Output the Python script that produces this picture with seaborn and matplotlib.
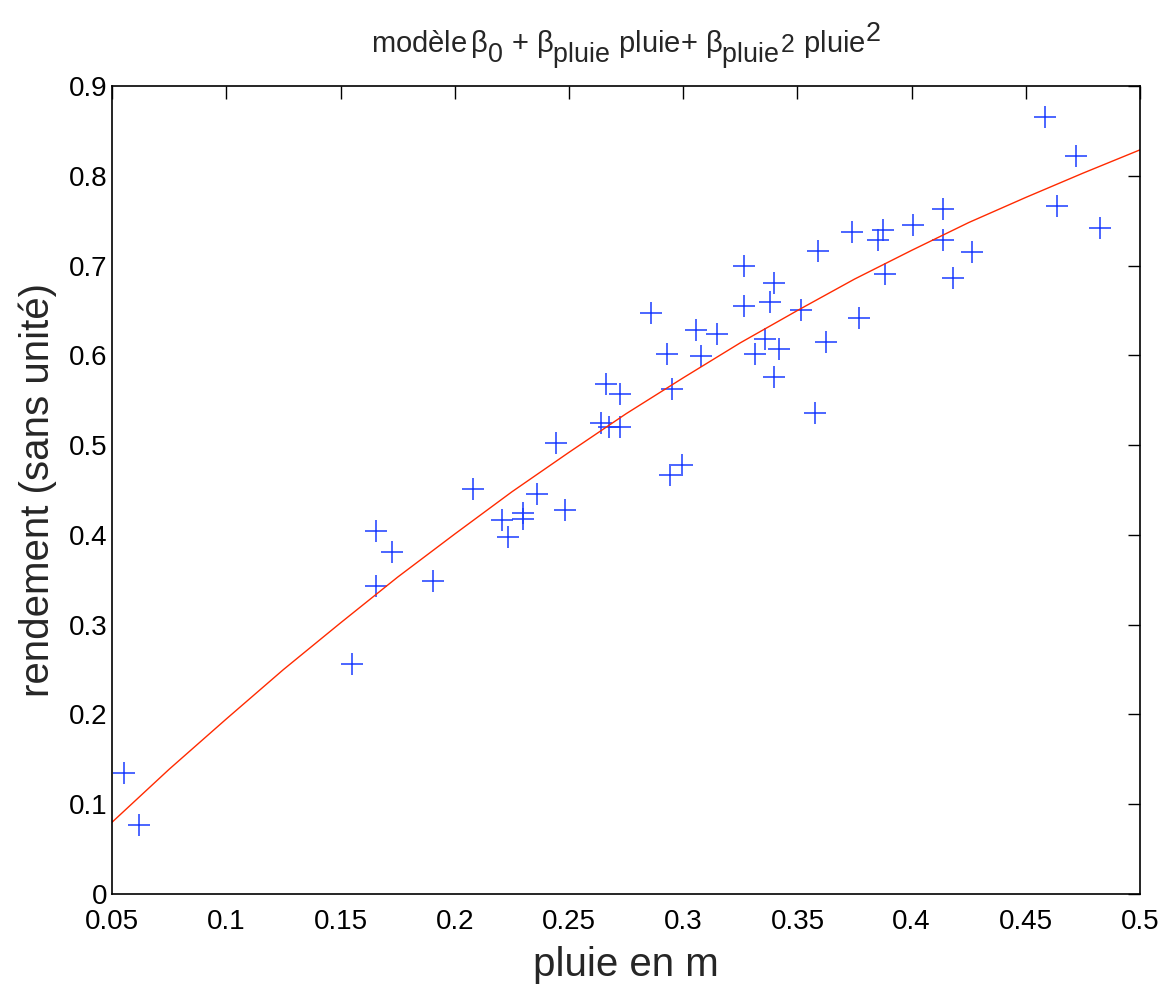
import matplotlib
matplotlib.use('Agg')
import matplotlib.pyplot as plt
import matplotlib._mathtext as mtext
import seaborn as sns
import pandas as pd

# points
pluie = [0.0553, 0.0616, 0.1550, 0.1654, 0.1654, 0.1726, 0.1905, 0.2080, 0.2206,
         0.2235, 0.2297, 0.2297, 0.2359, 0.2442, 0.2484, 0.2640, 0.2663, 0.2675,
         0.2722, 0.2722, 0.2857, 0.2931, 0.2943, 0.2953, 0.2994, 0.3055, 0.3077,
         0.3149, 0.3264, 0.3264, 0.3315, 0.3357, 0.3378, 0.3398, 0.3418, 0.3398,
         0.3514, 0.3575, 0.3588, 0.3626, 0.3738, 0.3769, 0.3854, 0.3875, 0.3885,
         0.4004, 0.4139, 0.4139, 0.4181, 0.4265, 0.4582, 0.4634, 0.4720, 0.4825]
rendement = [0.135, 0.077, 0.256, 0.404, 0.343, 0.381, 0.349, 0.451, 0.417,
             0.398, 0.424, 0.418, 0.446, 0.502, 0.428, 0.525, 0.568, 0.520,
             0.557, 0.520, 0.647, 0.602, 0.467, 0.562, 0.478, 0.628, 0.599,
             0.624, 0.699, 0.655, 0.602, 0.618, 0.660, 0.681, 0.607, 0.576,
             0.650, 0.536, 0.716, 0.615, 0.737, 0.642, 0.729, 0.740, 0.691,
             0.745, 0.763, 0.729, 0.686, 0.715, 0.865, 0.766, 0.822, 0.742]

# courbe du modele
x_modele = [0.05, 0.075, 0.10, 0.125, 0.15, 0.175, 0.20, 0.225, 0.25, 0.275,
            0.30, 0.325, 0.35, 0.375, 0.40, 0.425, 0.45, 0.475, 0.50]
y_modele = [0.080, 0.139, 0.195, 0.250, 0.302, 0.353, 0.401, 0.448, 0.492, 0.535,
            0.575, 0.614, 0.650, 0.685, 0.717, 0.748, 0.776, 0.803, 0.829]

x_ticks = [0.05, 0.1, 0.15, 0.2, 0.25, 0.3, 0.35, 0.4, 0.45, 0.5]
x_ticklabels = ["0.05", "0.1", "0.15", "0.2", "0.25", "0.3", "0.35", "0.4", "0.45", "0.5"]
y_ticks = [0, 0.1, 0.2, 0.3, 0.4, 0.5, 0.6, 0.7, 0.8, 0.9]
y_ticklabels = ["0", "0.1", "0.2", "0.3", "0.4", "0.5", "0.6", "0.7", "0.8", "0.9"]

sns.set_style("white")
plt.rcParams['font.family'] = ['Liberation Sans', 'DejaVu Sans']
plt.rcParams['mathtext.fontset'] = 'custom'
plt.rcParams['mathtext.rm'] = 'Liberation Sans'
plt.rcParams['mathtext.it'] = 'Liberation Sans'
plt.rcParams['mathtext.bf'] = 'Liberation Sans'
# indices presque pleine taille et bien abaisses, comme dans le titre d'origine
mtext.SHRINK_FACTOR = 0.92
mtext.FontConstantsBase.sub1 = 0.65
mtext.FontConstantsBase.sub2 = 0.7

df = pd.DataFrame({"pluie": pluie, "rendement": rendement})
df_mod = pd.DataFrame({"pluie": x_modele, "rendement": y_modele})

fig = plt.figure(figsize=(11.67, 9.89), dpi=100)
ax = fig.add_axes([0.096, 0.096, 0.881, 0.817])

sns.lineplot(data=df_mod, x="pluie", y="rendement", color="#ff2a00",
             linewidth=1.0, ax=ax, sort=False)
sns.scatterplot(data=df, x="pluie", y="rendement", marker="+", s=260,
                color="#1a3cff", linewidth=1.1, ax=ax)

ax.set_xlim(0.05, 0.5)
ax.set_ylim(0, 0.9)
ax.set_xticks(x_ticks)
ax.set_xticklabels(x_ticklabels)
ax.set_yticks(y_ticks)
ax.set_yticklabels(y_ticklabels)
ax.tick_params(direction="in", length=9, width=1, labelsize=20,
               top=True, right=True, colors="black")
ax.tick_params(axis="x", pad=11)
for s in ax.spines.values():
    s.set_color("black")
    s.set_linewidth(1.2)

ax.set_xlabel("pluie en m", fontsize=29, labelpad=8)
ax.set_ylabel("rendement (sans unité)", fontsize=29, labelpad=8)
ax.set_title(r"modèle$\,\beta_0$ + $\beta_{pluie}$ pluie+ $\beta_{pluie^2}$ pluie$^2$",
             fontsize=21, pad=24)

fig.savefig("out.png", dpi=100)
